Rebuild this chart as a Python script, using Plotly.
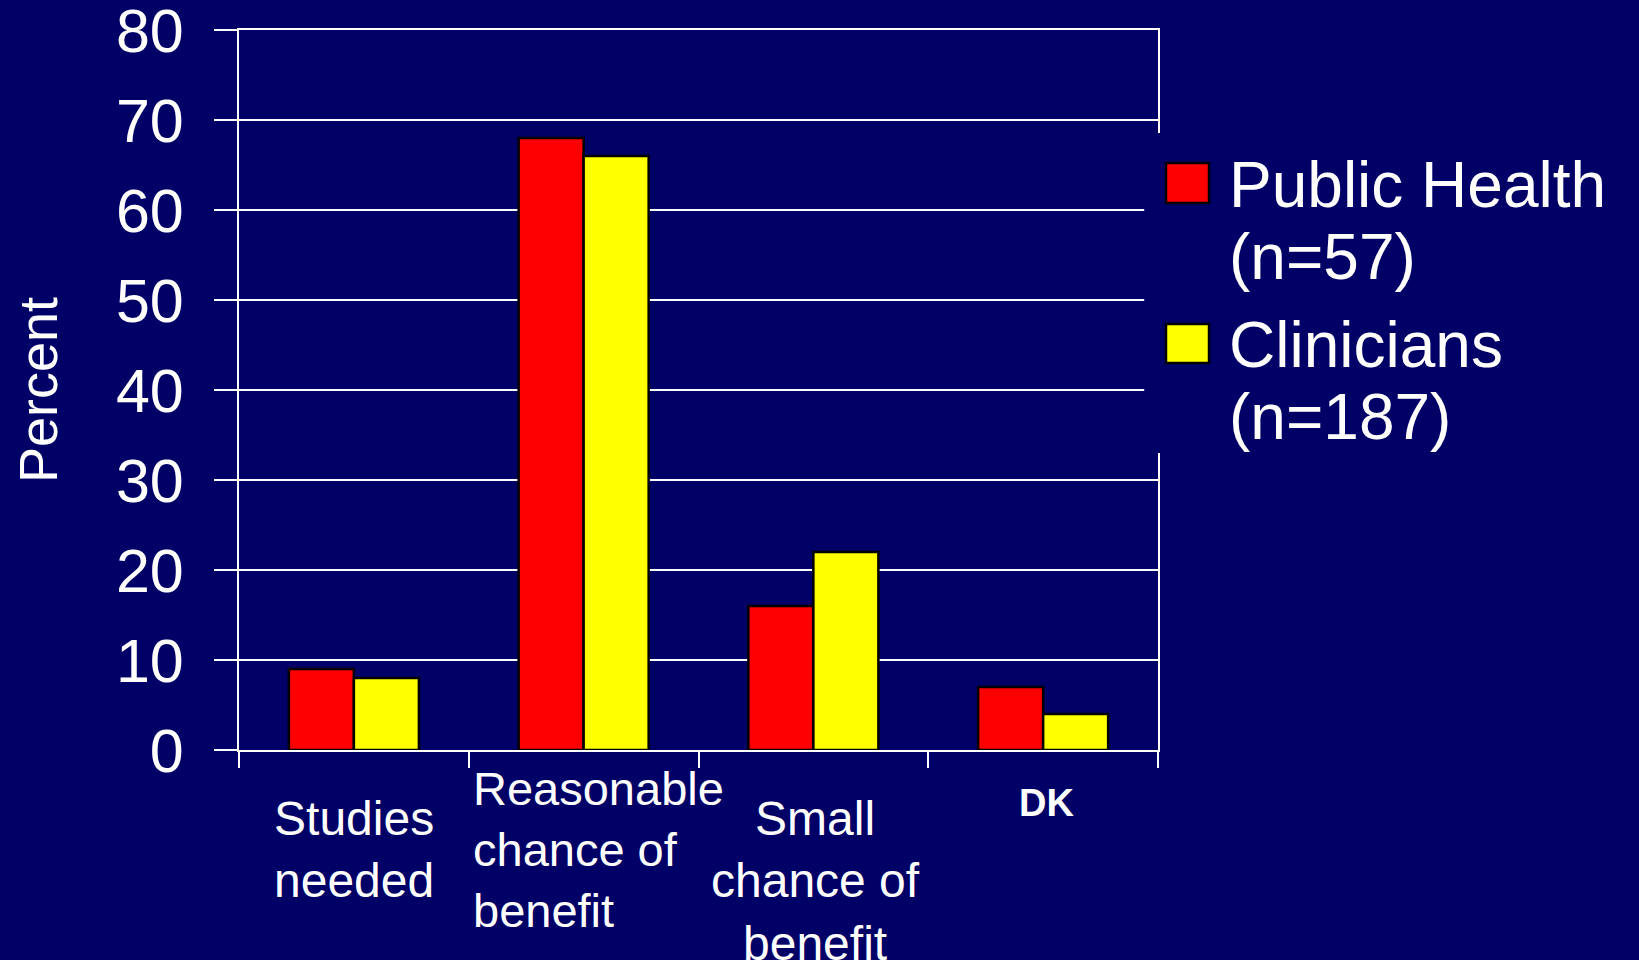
import plotly.graph_objects as go

categories = ["Studies needed", "Reasonable chance of benefit", "Small chance of benefit", "DK"]
category_labels = ["Studies<br>needed", "Reasonable<br>chance of<br>benefit", "Small<br>chance of<br>benefit", "<b>DK</b>"]
public_health = [9, 68, 16, 7]
clinicians = [8, 66, 22, 4]
series_names = ["Public Health (n=57)", "Clinicians (n=187)"]
legend_lines = [["Public Health", "(n=57)"], ["Clinicians", "(n=187)"]]
y_ticks = [0, 10, 20, 30, 40, 50, 60, 70, 80]

NAVY = "#000066"
RED = "#FF0000"
YELLOW = "#FFFF00"
FONT = "Liberation Sans, Arial, sans-serif"

fig = go.Figure()
fig.add_trace(go.Bar(x=categories, y=public_health, name=series_names[0],
                     marker=dict(color=RED, line=dict(color="black", width=2.5)),
                     showlegend=False))
fig.add_trace(go.Bar(x=categories, y=clinicians, name=series_names[1],
                     marker=dict(color=YELLOW, line=dict(color="black", width=2.5)),
                     showlegend=False))

fig.update_layout(
    width=1639, height=960,
    paper_bgcolor=NAVY, plot_bgcolor=NAVY,
    margin=dict(l=239, r=481, t=30, b=210, autoexpand=False),
    barmode="group", bargap=0.434, bargroupgap=0,
    font=dict(family=FONT, color="white"),
    showlegend=False,
)
fig.update_xaxes(
    type="category", tickson="boundaries", ticks="outside", ticklen=16,
    tickwidth=2, tickcolor="white", showticklabels=False, showgrid=False,
    showline=True, mirror=True, linecolor="white", linewidth=2,
    automargin=False,
)
fig.update_yaxes(
    range=[0, 80], tickvals=y_ticks, ticks="outside", ticklen=23,
    tickwidth=2, tickcolor="white", showgrid=True, gridcolor="white",
    gridwidth=2, showline=True, mirror=True, linecolor="white", linewidth=2,
    zeroline=False, tickfont=dict(size=61, color="white", family=FONT),
    ticklabelstandoff=18, ticklabelshift=1, ticklabeloverflow="allow", automargin=False,
    title=dict(text="Percent", font=dict(size=54, color="white", family=FONT), standoff=41),
)

# category labels
label_specs = [
    dict(x=0, xanchor="center", xshift=0, yshift=-40, align="center", size=48),
    dict(x=0.5, xanchor="left", xshift=2, yshift=-10, align="left", size=47),
    dict(x=2, xanchor="center", xshift=2, yshift=-40, align="center", size=48),
    dict(x=3, xanchor="center", xshift=3, yshift=-30, align="center", size=38),
]
for lab, spec in zip(category_labels, label_specs):
    fig.add_annotation(text=lab, x=spec["x"], y=0, xref="x", yref="paper",
                       xanchor=spec["xanchor"], yanchor="top",
                       xshift=spec["xshift"], yshift=spec["yshift"],
                       align=spec["align"], showarrow=False,
                       font=dict(size=spec["size"], color="white", family=FONT))

# legend background (covers grid/frame) and swatches
fig.add_shape(type="rect", xref="paper", yref="paper", x0=0.985, x1=1.55,
              y0=0.4125, y1=0.857, fillcolor=NAVY, line=dict(width=0), layer="above")
swatch_y = [(0.7597, 0.8153), (0.5375, 0.5917)]
for (y0, y1), col in zip(swatch_y, [RED, YELLOW]):
    fig.add_shape(type="rect", xref="paper", yref="paper", x0=1.0087, x1=1.0555,
                  y0=y0, y1=y1, fillcolor=col, line=dict(color="black", width=2.5),
                  layer="above")
legend_line_y = [0.7845, 0.6845, 0.5625, 0.4625]
flat_lines = [t for pair in legend_lines for t in pair]
for txt, yy in zip(flat_lines, legend_line_y):
    fig.add_annotation(text=txt, x=1.0705, y=yy, xref="paper", yref="paper",
                       xanchor="left", yanchor="middle", xshift=4, showarrow=False,
                       font=dict(size=64, color="white", family=FONT))

fig.write_html("out.html", config={"displayModeBar": False},
               post_script="document.body.style.margin='0';document.body.style.background='" + NAVY + "';")
